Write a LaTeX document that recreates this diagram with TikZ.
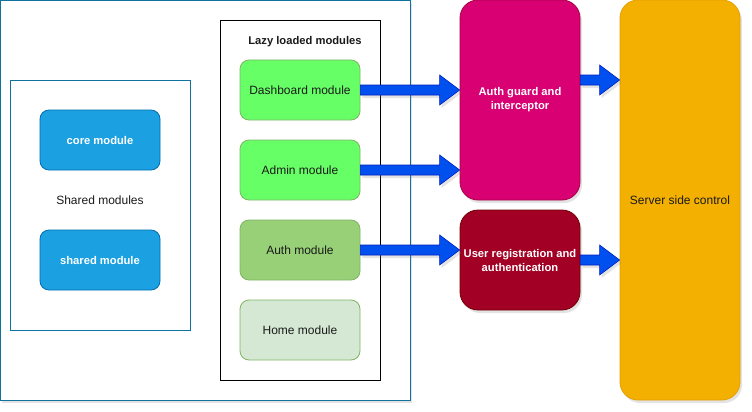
\documentclass[tikz,border=0pt]{standalone}
\usepackage{fontspec}
\setmainfont{Liberation Sans}
\usetikzlibrary{calc,shadows}
\definecolor{frameblue}{HTML}{10739E}
\definecolor{corefill}{HTML}{1BA1E2}
\definecolor{coredraw}{HTML}{006EAF}
\definecolor{lgreen}{HTML}{66FF66}
\definecolor{mgreen}{HTML}{97D077}
\definecolor{pgreen}{HTML}{D5E8D4}
\definecolor{gdraw}{HTML}{82B366}
\definecolor{magfill}{HTML}{D80073}
\definecolor{magdraw}{HTML}{A50040}
\definecolor{redfill}{HTML}{A20025}
\definecolor{reddraw}{HTML}{6F0000}
\definecolor{srvfill}{HTML}{F4B000}
\definecolor{srvdraw}{HTML}{E0A000}
\definecolor{arrfill}{HTML}{0050EF}
\definecolor{arrdraw}{HTML}{001DBC}
\definecolor{txt}{HTML}{1A1A1A}
\tikzset{
  shad/.style={drop shadow={opacity=0.22,shadow xshift=2pt,shadow yshift=-3pt}},
  boldfont/.style={font=\fontsize{11.2}{14}\selectfont\bfseries},
  plainbox/.style={draw, rectangle, inner sep=0pt, line width=0.8pt},
  modbox/.style={draw, rectangle, rounded corners=9pt, minimum width=120pt, minimum height=60pt, inner sep=0pt, line width=0.8pt, font=\fontsize{12}{14}\selectfont, text=txt, align=center},
  bluemod/.style={modbox, fill=corefill, draw=coredraw, text=white, boldfont},
  tallbox/.style={draw, rectangle, rounded corners=18pt, minimum width=120pt, inner sep=0pt, line width=0.8pt, align=center, shad},
  lbl/.style={font=\fontsize{12}{14}\selectfont, text=txt, inner sep=0pt},
  barrowstyle/.style={fill=arrfill, draw=arrdraw, line width=0.6pt, line join=miter, shad}
}
% block arrow from the east side of #1 to the west side of #2, at the height of #3
\newcommand\blockarrow[3]{%
  \path[barrowstyle] let \p1=(#1.east), \p2=(#2.west), \p3=(#3) in
    (\x1,\y3+5pt) -- (\x2-20pt,\y3+5pt) -- (\x2-20pt,\y3+15pt) -- (\x2,\y3)
    -- (\x2-20pt,\y3-15pt) -- (\x2-20pt,\y3-5pt) -- (\x1,\y3-5pt) -- cycle;}
\begin{document}
\begin{tikzpicture}[x=1pt,y=-1pt]
\useasboundingbox (0,0) rectangle (752,412);
% outer frame
\node[plainbox, draw=frameblue, fill=white, minimum width=410pt, minimum height=400pt, anchor=north west, shad] (outer) at (0,0) {};
% shared modules frame
\node[plainbox, draw=frameblue, minimum width=180pt, minimum height=250pt, anchor=north west] (shared) at (10,80) {};
\node[lbl] (sharedlbl) at (100,200) {Shared modules};
\node[bluemod] (core) at (100,140) {core module};
\node[bluemod] (sharedmod) at (100,260) {shared module};
% lazy modules frame
\node[plainbox, draw=black, minimum width=160pt, minimum height=360pt, anchor=north west] (lazy) at (220,20) {};
\node[lbl, boldfont] (lazylbl) at (305,42) {Lazy loaded modules};
\node[modbox, fill=lgreen, draw=gdraw] (dash) at (300,90) {Dashboard module};
\node[modbox, fill=lgreen, draw=gdraw] (admin) at (300,170) {Admin module};
\node[modbox, fill=mgreen, draw=gdraw] (auth) at (300,250) {Auth module};
\node[modbox, fill=pgreen, draw=gdraw] (home) at (300,330) {Home module};
% right side
\node[tallbox, fill=magfill, draw=magdraw, minimum height=200pt, text=white, boldfont] (guard) at (520,100) {Auth guard and\\interceptor};
\node[tallbox, fill=redfill, draw=reddraw, minimum height=100pt, text=white, boldfont] (userreg) at (520,260) {User registration and\\authentication};
\node[tallbox, fill=srvfill, draw=srvdraw, minimum height=400pt, text=txt, font=\fontsize{12}{14}\selectfont] (server) at (680,200) {Server side control};
\coordinate (guardout) at (580,80);
% arrows
\blockarrow{dash}{guard}{dash.east}
\blockarrow{admin}{guard}{admin.east}
\blockarrow{auth}{userreg}{auth.east}
\blockarrow{guard}{server}{guardout}
\blockarrow{userreg}{server}{userreg.east}
\end{tikzpicture}
\end{document}
